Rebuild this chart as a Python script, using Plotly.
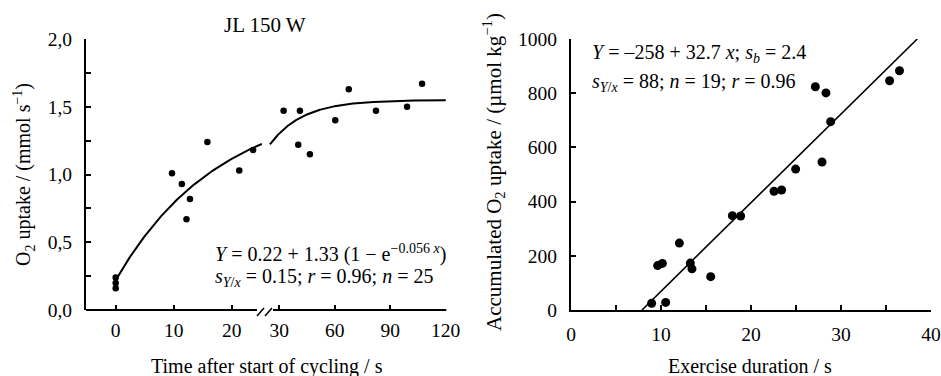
import numpy as np
import plotly.graph_objects as go

W, H = 941, 376

# ---------------- data ----------------
# Left panel: O2 uptake vs time (first segment 0-25 s, second segment 30-120 s)
t_seg1 = [0, 0, 0, 9.7, 11.4, 12.2, 12.8, 15.8, 21.3, 23.7]
o2_seg1 = [0.24, 0.20, 0.16, 1.01, 0.93, 0.67, 0.82, 1.24, 1.03, 1.18]
t_seg2 = [32.4, 41.2, 40.3, 46.6, 60.3, 67.6, 82.3, 99.1, 107.2]
o2_seg2 = [1.47, 1.47, 1.22, 1.15, 1.40, 1.63, 1.47, 1.50, 1.67]
fit_a, fit_b, fit_k = 0.22, 1.33, 0.056

# Right panel: accumulated O2 uptake vs exercise duration
dur = [8.96, 10.52, 9.63, 10.15, 12.04, 13.26, 13.44, 15.52, 17.93, 18.85,
       22.56, 23.40, 24.96, 27.15, 28.33, 28.85, 27.89, 35.40, 36.50]
acc = [25, 28, 164, 172, 247, 173, 152, 123, 348, 347,
       438, 443, 520, 824, 801, 695, 546, 846, 883]
lin_a, lin_b = -258, 32.7

left_yticks = [0, 0.25, 0.5, 0.75, 1.0, 1.25, 1.5, 1.75, 2.0]
left_yticktext = ["0,0", "", "0,5", "", "1,0", "", "1,5", "", "2,0"]

FONT = "Liberation Serif, Times New Roman, serif"
FS_TICK = 19.5
FS_TITLE = 20
FS_ANN = 20

def px(x):
    return x / W

def py(y):
    return 1 - y / H

fig = go.Figure()

def fitf(x):
    return fit_a + fit_b * (1 - np.exp(-fit_k * x))

c1 = np.linspace(0, 25.2, 120)
c2 = np.linspace(25.0, 120, 300)
fig.add_trace(go.Scatter(x=c1, y=fitf(c1), mode="lines", xaxis="x", yaxis="y",
                         line=dict(color="black", width=2), showlegend=False))
fig.add_trace(go.Scatter(x=c2, y=fitf(c2), mode="lines", xaxis="x2", yaxis="y",
                         line=dict(color="black", width=2), showlegend=False))
fig.add_trace(go.Scatter(x=t_seg1, y=o2_seg1, mode="markers", xaxis="x", yaxis="y",
                         marker=dict(color="black", size=6.5), cliponaxis=False, showlegend=False))
fig.add_trace(go.Scatter(x=t_seg2, y=o2_seg2, mode="markers", xaxis="x2", yaxis="y",
                         marker=dict(color="black", size=6.5), cliponaxis=False, showlegend=False))

x0 = -lin_a / lin_b
x1 = (1000 - lin_a) / lin_b
lx = np.array([x0, x1])
fig.add_trace(go.Scatter(x=lx, y=lin_a + lin_b * lx, mode="lines", xaxis="x3", yaxis="y3",
                         line=dict(color="black", width=1.6), showlegend=False))
fig.add_trace(go.Scatter(x=dur, y=acc, mode="markers", xaxis="x3", yaxis="y3",
                         marker=dict(color="black", size=9), cliponaxis=False, showlegend=False))

ydom = [py(310), py(39)]
tickfont = dict(family=FONT, size=FS_TICK, color="black")
common = dict(ticks="inside", ticklen=5, tickwidth=1.5, tickcolor="black",
              showgrid=False, zeroline=False, tickfont=tickfont, automargin=False)

fig.update_layout(
    template="none",
    width=W, height=H,
    margin=dict(l=0, r=0, t=0, b=0, pad=0),
    paper_bgcolor="white", plot_bgcolor="white",
    font=dict(family=FONT, size=FS_TICK, color="black"),
    xaxis=dict(domain=[px(86), px(262)], range=[-5.12, 25.22], anchor="y",
               tickvals=[0, 10, 20], showline=False, ticklabelstandoff=6, **common),
    xaxis2=dict(domain=[px(269), px(446.3)], range=[24.5, 120.3], anchor="y",
                tickvals=[30, 60, 90, 120], showline=False, ticklabelstandoff=6, **common),
    yaxis=dict(domain=ydom, range=[0, 2.0], anchor="x",
               tickvals=left_yticks, ticktext=left_yticktext,
               showline=True, linecolor="black", linewidth=2, ticklabelstandoff=8, **common),
    xaxis3=dict(domain=[px(571), px(931)], range=[0, 40], anchor="y3",
                tickvals=[0, 5, 10, 15, 20, 25, 30, 35, 40],
                ticktext=["0", "", "10", "", "20", "", "30", "", "40"],
                showline=True, linecolor="black", linewidth=2, ticklabelstandoff=6, **common),
    yaxis3=dict(domain=ydom, range=[0, 1000], anchor="x3",
                tickvals=[0, 200, 400, 600, 800, 1000],
                showline=True, linecolor="black", linewidth=2, ticklabelstandoff=8, **common),
)

shapes = [
    dict(type="line", xref="paper", yref="paper", x0=px(86), x1=px(257), y0=py(310), y1=py(310),
         line=dict(color="black", width=2)),
    dict(type="line", xref="paper", yref="paper", x0=px(273), x1=px(446.3), y0=py(310), y1=py(310),
         line=dict(color="black", width=2)),
    dict(type="line", xref="paper", yref="paper", x0=px(257), x1=px(264), y0=py(316), y1=py(308),
         line=dict(color="black", width=1.5)),
    dict(type="line", xref="paper", yref="paper", x0=px(265), x1=px(272), y0=py(316), y1=py(308),
         line=dict(color="black", width=1.5)),
]
fig.update_layout(shapes=shapes)

ann = []
def A(text, x, y, size, xanchor="center", yanchor="middle", angle=0):
    ann.append(dict(text=text, x=px(x), y=py(y), xref="paper", yref="paper",
                    xanchor=xanchor, yanchor=yanchor, textangle=angle, showarrow=False,
                    font=dict(family=FONT, size=size, color="black"), align="left"))

A("JL 150 W", 265, 25, 21)
A("O<sub>2</sub> uptake / (mmol s<sup>−1</sup>)", 24, 175, FS_TITLE, angle=-90)
A("Time after start of cycling / s", 267, 366, FS_TITLE)
A("Accumulated O<sub>2</sub> uptake / (µmol kg<sup>−1</sup>)", 494, 172, 21, angle=-90)
A("Exercise duration / s", 750, 366, FS_TITLE)
A("<i>Y</i> = 0.22 + 1.33 (1 − e<sup>−0.056 <i>x</i></sup>)", 213, 253, FS_ANN, xanchor="left")
A("<i>s</i><sub><i>Y</i>/<i>x</i></sub> = 0.15; <i>r</i> = 0.96; <i>n</i> = 25", 213, 277, FS_ANN, xanchor="left")
A("<i>Y</i> = –258 + 32.7 <i>x</i>; <i>s</i><sub><i>b</i></sub> = 2.4", 590, 54, FS_ANN, xanchor="left")
A("<i>s</i><sub><i>Y</i>/<i>x</i></sub> = 88; <i>n</i> = 19; <i>r</i> = 0.96", 590, 82, FS_ANN, xanchor="left")
fig.update_layout(annotations=ann)

fig.write_html(
    "out.html",
    config={"displayModeBar": False},
    post_script="document.body.style.margin='0';"
                "document.body.style.overflow='hidden';"
                "document.documentElement.style.overflow='hidden';",
)
